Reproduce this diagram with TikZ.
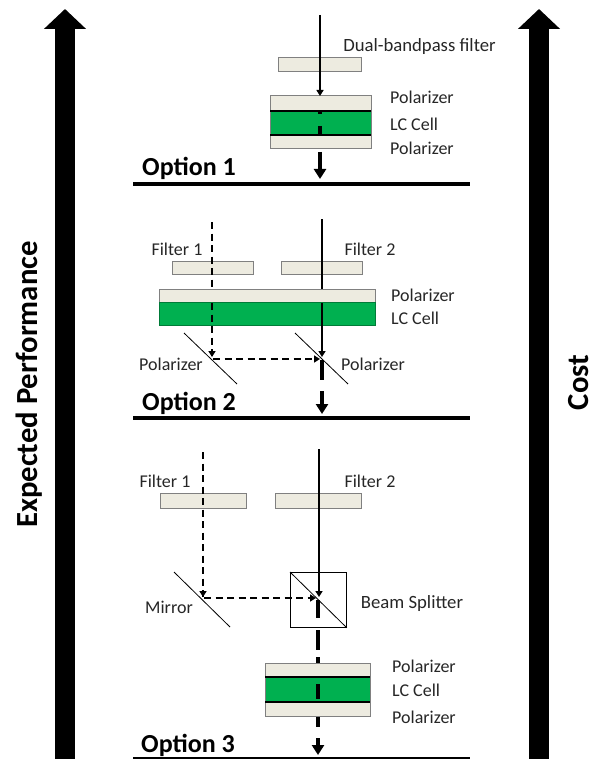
\documentclass[tikz,border=0pt]{standalone}
\usepackage{fontspec}
\setmainfont{Carlito}
\usetikzlibrary{arrows.meta}
\definecolor{beige}{HTML}{EDEBE0}
\definecolor{edgegray}{HTML}{808080}
\definecolor{lcgreen}{HTML}{00B050}
\tikzset{
  x=1pt,y=-1pt,
  panel/.style={draw=edgegray,line width=1pt,fill=beige,inner sep=0pt,outer sep=0pt,anchor=north west},
  lcpanel/.style={draw=edgegray,line width=1pt,fill=lcgreen,inner sep=0pt,outer sep=0pt,anchor=north west},
  lcedge/.style={draw=black,line width=1.2pt},
  mirrorline/.style={draw=black,line width=0.8pt},
  beam/.style={draw=black,line width=1.6pt,-{Triangle[length=6pt,width=7pt]}},
  beamplain/.style={draw=black,line width=1.6pt},
  dashbeam/.style={draw=black,line width=2pt,dash pattern=on 7pt off 4.5pt},
  tiponly/.style={draw=black,line width=1.6pt,-{Triangle[length=6pt,width=7pt]}},
  outbeam/.style={draw=black,line width=3.2pt},
  outarrow/.style={draw=black,line width=3.2pt,-{Triangle[length=10pt,width=12pt]}},
  rulebar/.style={draw=black,line width=4.5pt},
  bigarrow/.style={draw=black,line width=20pt,-{Triangle[length=20pt,width=41pt]}},
  lbl/.style={font=\fontsize{18}{22}\selectfont,text=black!85,inner sep=0pt,text height=1em,text depth=.06em,yshift=-2pt},
  lblwide/.style={lbl,font=\fontsize{18.7}{22}\selectfont},
  optlbl/.style={font=\fontsize{26}{30}\selectfont\bfseries,text=black,inner sep=0pt,anchor=west,text height=1em,text depth=0em,yshift=-4pt},
  axislbl/.style={font=\fontsize{30.7}{36}\selectfont\bfseries,text=black,inner sep=0pt,rotate=90,anchor=base},
}
\begin{document}
\begin{tikzpicture}
\useasboundingbox (0,0) rectangle (589,759);
% axis arrows
\coordinate (la0) at (65,759); \coordinate (la1) at (65,9);
\coordinate (ra0) at (539,759); \coordinate (ra1) at (539,9);
\draw[bigarrow] (la0) -- (la1);
\draw[bigarrow] (ra0) -- (ra1);
\node[axislbl] (perf) at (37,384.5) {Expected Performance};
\node[axislbl] (cost) at (588,382.5) {Cost};

% ---------- Option 1
\node[panel,minimum width=83pt,minimum height=14pt] (a1f) at (278,58) {};
\node[panel,minimum width=101pt,minimum height=53pt] (a1p) at (270,96) {};
\node[lcpanel,minimum width=101pt,minimum height=24pt] (a1c) at (270,111) {};
\draw[lcedge] (a1c.north west) -- (a1c.north east);
\draw[lcedge] (a1c.south west) -- (a1c.south east);
\coordinate (a1s) at (320,15); \coordinate (a1e) at (320,96);
\draw[beam] (a1s) -- (a1e);
\coordinate (a1d0) at (320,111); \coordinate (a1d1) at (320,114);
\coordinate (a1d2) at (320,126); \coordinate (a1d3) at (320,135);
\coordinate (a1d4) at (320,152); \coordinate (a1d5) at (320,179);
\draw[outbeam] (a1d0) -- (a1d1);
\draw[outbeam] (a1d2) -- (a1d3);
\draw[outarrow] (a1d4) -- (a1d5);
\coordinate (r1a) at (133,184); \coordinate (r1b) at (470,184);
\draw[rulebar] (r1a) -- (r1b);
\node[lblwide] (t1) at (419.5,45) {Dual-bandpass filter};
\node[lbl,anchor=west] (t2) at (390,97) {Polarizer};
\node[lbl,anchor=west] (t3) at (390,124) {LC Cell};
\node[lbl,anchor=west] (t4) at (390,148) {Polarizer};
\node[optlbl] (o1) at (142,167) {Option 1};

% ---------- Option 2
\node[panel,minimum width=81pt,minimum height=13pt] (b1f) at (172,261) {};
\node[panel,minimum width=81pt,minimum height=13pt] (b2f) at (281,261) {};
\node[panel,minimum width=216pt,minimum height=13pt] (b1p) at (159,289) {};
\node[lcpanel,minimum width=216pt,minimum height=23pt,draw=lcgreen!70!black] (b1c) at (159,302) {};
\coordinate (b1s) at (212,222); \coordinate (b1t) at (212,289);
\coordinate (b1u) at (212,303); \coordinate (b1e) at (212,357);
\coordinate (b2s) at (322,219); \coordinate (b2t) at (322,289);
\coordinate (b2u) at (322,303); \coordinate (b2e) at (322,357);
\draw[dashbeam] (b1s) -- (b1t);
\draw[dashbeam] (b1u) -- (b1e);
\draw[tiponly] ([yshift=6pt]b1e) -- (b1e);
\draw[beamplain] (b2s) -- (b2t);
\draw[beam] (b2u) -- (b2e);
\coordinate (bh0) at (213,359); \coordinate (bh1) at (320,359);
\draw[dashbeam] (bh0) -- ([xshift=-6pt]bh1);
\draw[tiponly] ([xshift=-6pt]bh1) -- (bh1);
\coordinate (bm1a) at (184,333); \coordinate (bm1b) at (237,384);
\coordinate (bm2a) at (295,333); \coordinate (bm2b) at (348,384);
\draw[mirrorline] (bm1a) -- (bm1b);
\draw[mirrorline] (bm2a) -- (bm2b);
\coordinate (bd0) at (322,360); \coordinate (bd1) at (322,380);
\coordinate (bd2) at (322,391); \coordinate (bd3) at (322,414);
\draw[outbeam] (bd0) -- (bd1);
\draw[outarrow] (bd2) -- (bd3);
\coordinate (r2a) at (133,418); \coordinate (r2b) at (470,418);
\draw[rulebar] (r2a) -- (r2b);
\node[lbl] (t5) at (177,249) {Filter 1};
\node[lbl] (t6) at (370,249) {Filter 2};
\node[lbl,anchor=west] (t7) at (391,295) {Polarizer};
\node[lbl,anchor=west] (t8) at (391,318) {LC Cell};
\node[lbl] (t9) at (171,364) {Polarizer};
\node[lbl] (t10) at (373,364) {Polarizer};
\node[optlbl] (o2) at (142,401) {Option 2};

% ---------- Option 3
\node[panel,minimum width=86pt,minimum height=15pt] (c1f) at (160,493) {};
\node[panel,minimum width=86pt,minimum height=15pt] (c2f) at (275,493) {};
\coordinate (c1s) at (203,452); \coordinate (c1e) at (203,597);
\coordinate (c2s) at (319,449); \coordinate (c2e) at (319,597);
\draw[dashbeam] (c1s) -- (c1e);
\draw[tiponly] ([yshift=6pt]c1e) -- (c1e);
\node[draw=black,line width=0.8pt,inner sep=0pt,anchor=north west,minimum width=56pt,minimum height=55pt] (cbs) at (290,572) {};
\draw[beam] (c2s) -- (c2e);
\coordinate (ch0) at (204,598); \coordinate (ch1) at (316,598);
\draw[dashbeam] (ch0) -- ([xshift=-6pt]ch1);
\draw[tiponly] ([xshift=-6pt]ch1) -- (ch1);
\coordinate (cm1a) at (174,572); \coordinate (cm1b) at (230,627);
\draw[mirrorline] (cm1a) -- (cm1b);
\draw[mirrorline] (cbs.north west) -- (cbs.south east);
\coordinate (cd0) at (318,600); \coordinate (cd1) at (318,618);
\coordinate (cd2) at (318,630); \coordinate (cd3) at (318,650);
\coordinate (cd4) at (318,657); \coordinate (cd5) at (318,663);
\draw[outbeam] (cd0) -- (cd1);
\draw[outbeam] (cd2) -- (cd3);
\draw[outbeam] (cd4) -- (cd5);
\node[panel,minimum width=105pt,minimum height=53pt] (c1p) at (265,663) {};
\node[lcpanel,minimum width=105pt,minimum height=25pt] (c1c) at (265,677) {};
\draw[lcedge] (c1c.north west) -- (c1c.north east);
\draw[lcedge] (c1c.south west) -- (c1c.south east);
\coordinate (cd6) at (318,684); \coordinate (cd7) at (318,699);
\coordinate (cd8) at (318,717); \coordinate (cd9) at (318,727);
\coordinate (cd10) at (318,738); \coordinate (cd11) at (318,755);
\draw[outbeam] (cd6) -- (cd7);
\draw[outbeam] (cd8) -- (cd9);
\draw[outarrow] (cd10) -- (cd11);
\coordinate (r3a) at (133,758); \coordinate (r3b) at (470,758);
\draw[rulebar,line width=2.5pt] (r3a) -- (r3b);
\node[lbl] (t11) at (165,481) {Filter 1};
\node[lbl] (t12) at (370,481) {Filter 2};
\node[lbl] (t13) at (169,607) {Mirror};
\node[lblwide] (t14) at (412,602) {Beam Splitter};
\node[lbl,anchor=west] (t15) at (392,666) {Polarizer};
\node[lbl,anchor=west] (t16) at (392,690) {LC Cell};
\node[lbl,anchor=west] (t17) at (392,717) {Polarizer};
\node[optlbl] (o3) at (141,743) {Option 3};
\end{tikzpicture}
\end{document}
